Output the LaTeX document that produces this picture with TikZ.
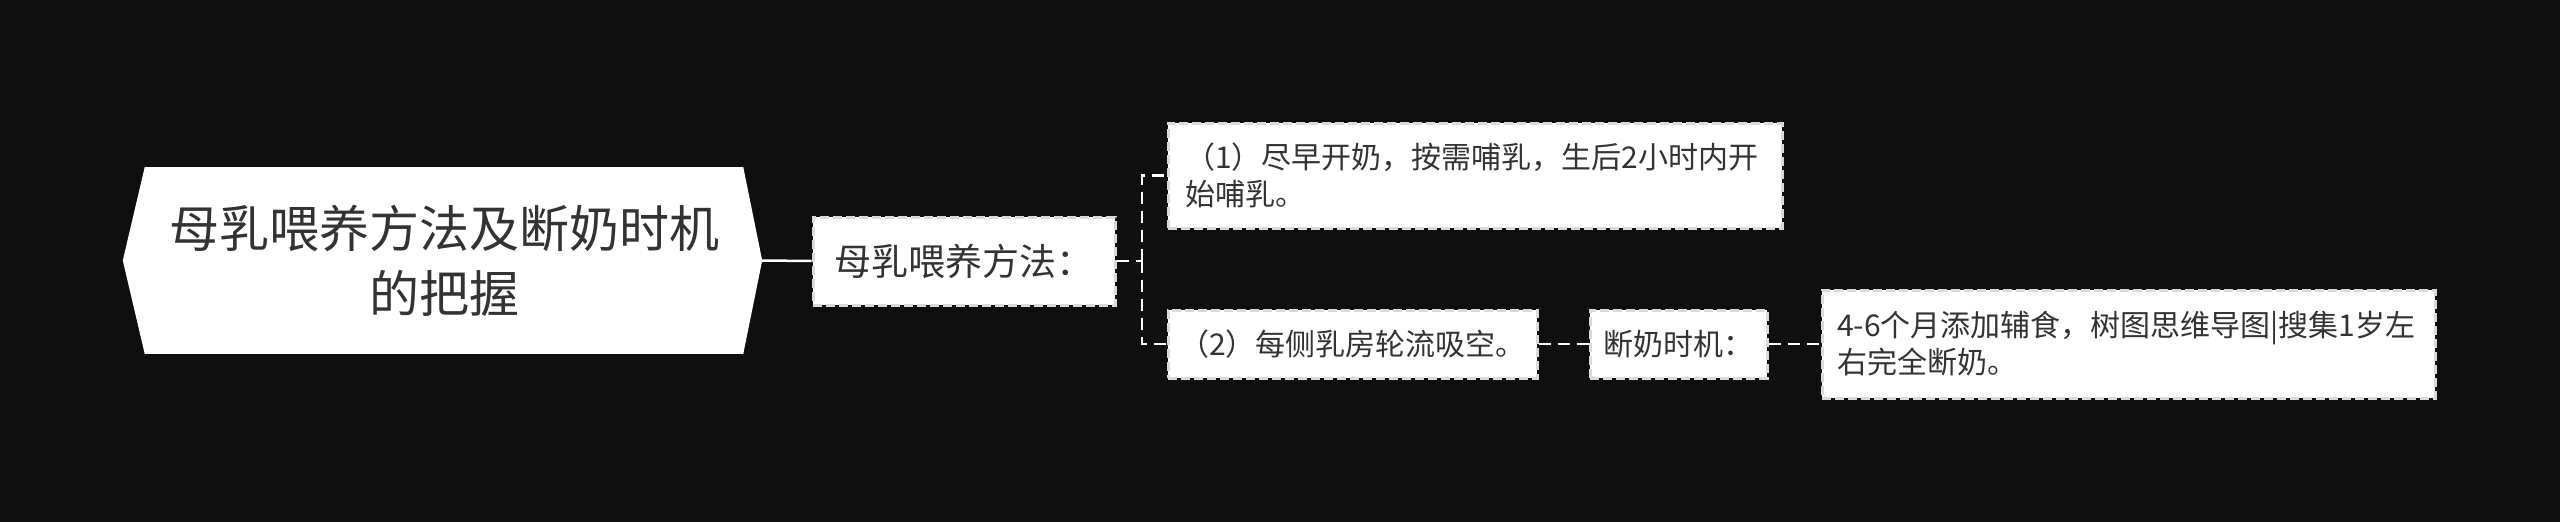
\documentclass[tikz,border=0pt]{standalone}
\usepackage{fontspec}
\newfontfamily\cjk{Noto Sans CJK SC}
\definecolor{bgDark}{HTML}{0F0F0F}
\definecolor{inkText}{HTML}{333333}
\definecolor{boxEdge}{HTML}{DADADA}

\begin{document}
\begin{tikzpicture}[x=1pt,y=-1pt,
  topicbox/.style={draw=boxEdge, fill=white, line width=3pt, dash pattern=on 9pt off 4pt, text=inkText, inner xsep=17pt, inner ysep=0pt, align=left},
  smallText/.style={font=\cjk\fontsize{30}{37}\selectfont},
  link/.style={white, line width=2.5pt, dash pattern=on 12pt off 7pt}]
\fill[bgDark] (0,0) rectangle (2560,522);
\useasboundingbox (0,0) rectangle (2560,522);
\node[fill=white, text=inkText, minimum width=598pt, minimum height=187pt, inner sep=0pt, align=center, font=\cjk\fontsize{50}{65}\selectfont] (root) at (444,260.5) {母乳喂养方法及断奶时机\\的把握};
\fill[white] (root.north east) -- ([xshift=19pt]root.east) -- (root.south east) -- cycle;
\fill[white] (root.north west) -- ([xshift=-22pt]root.west) -- (root.south west) -- cycle;
\coordinate (rootTip) at ([xshift=19pt]root.east);
\node[topicbox, minimum width=302pt, minimum height=88pt, inner xsep=0pt, align=center, font=\cjk\fontsize{37}{44}\selectfont] (method) at (964,261) {母乳喂养方法：};
\node[topicbox, smallText, minimum height=105pt, text width=580pt] (early) at (1475,175.5) {（1）尽早开奶，按需哺乳，生后2小时内开\\始哺乳。};
\node[topicbox, smallText, minimum width=369pt, minimum height=68pt, inner xsep=0pt] (bothSides) at (1352.5,344) {（2）每侧乳房轮流吸空。};
\node[topicbox, smallText, minimum width=177pt, minimum height=68pt, inner xsep=0pt] (weanTitle) at (1678.5,344) {断奶时机：};
\node[topicbox, smallText, minimum height=108pt, text width=583pt, inner xsep=15pt] (weanAge) at (2128.5,344) {4-6个月添加辅食，树图思维导图|搜集1岁左\\右完全断奶。};
\coordinate (fork) at (1142,261);
\draw[white, line width=2.5pt] (rootTip) -- (method.west);
\draw[link] (method.east) -- (fork);
\draw[link] (fork) |- (early.west);
\draw[link] (fork) |- (bothSides.west);
\draw[link] (bothSides.east) -- (weanTitle.west);
\draw[link] (weanTitle.east) -- (weanAge.west);
\end{tikzpicture}
\end{document}
